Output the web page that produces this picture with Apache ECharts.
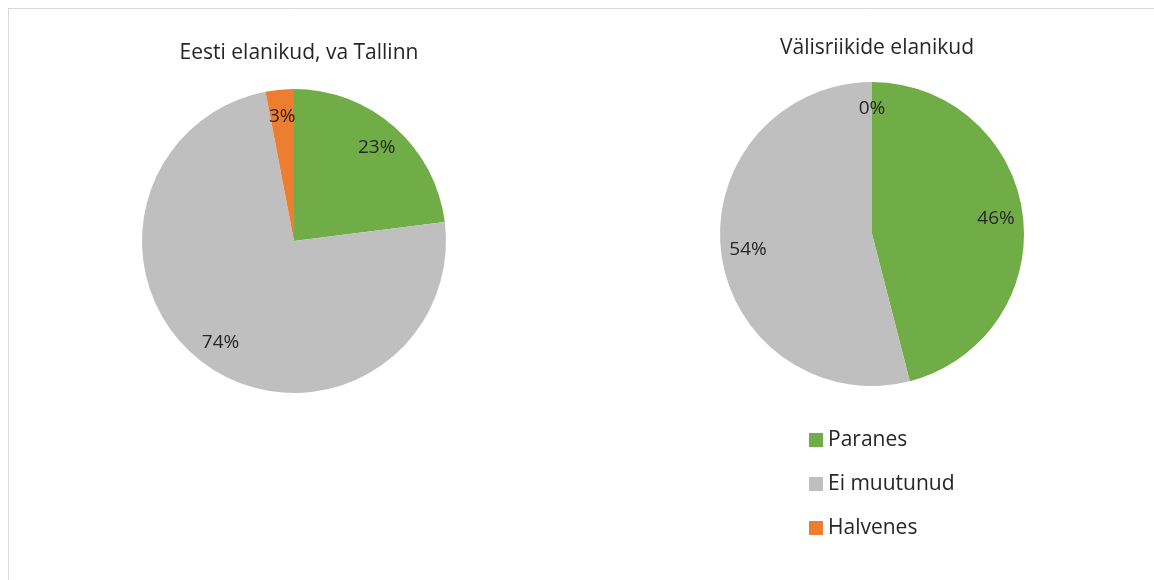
<!DOCTYPE html>
<html>
<head>
<meta charset="utf-8">
<script src="https://cdn.jsdelivr.net/npm/echarts@6/dist/echarts.min.js"></script>
<style>
html, body { margin: 0; padding: 0; background: #fff; }
#main { width: 1154px; height: 580px; }
</style>
</head>
<body>
<div id="main"></div>
<script>
// andmed
var categories = ['Paranes', 'Ei muutunud', 'Halvenes'];
var colors = ['#70AD47', '#BFBFBF', '#ED7D31'];
var eestiValues = [23, 74, 3];
var valisValues = [46, 54, 0];
var titles = ['Eesti elanikud, va Tallinn', 'Välisriikide elanikud'];

var FONT = '"Open Sans", "Noto Sans", sans-serif';
var myChart = echarts.init(document.getElementById('main'));

function toData(vals) {
    return categories.map(function (c, i) {
        return { name: c, value: vals[i], itemStyle: { color: colors[i] } };
    });
}

// pie slices + a transparent ring on top just for the labels (so they sit at ~0.8r)
function pieSeries(vals, center) {
    return [{
        type: 'pie',
        center: center,
        radius: 152,
        startAngle: 90,
        clockwise: true,
        silent: true,
        animation: false,
        label: { show: false },
        labelLine: { show: false },
        data: toData(vals)
    }, {
        type: 'pie',
        center: center,
        radius: [92, 152],
        startAngle: 90,
        clockwise: true,
        silent: true,
        animation: false,
        minShowLabelAngle: -1,
        itemStyle: { color: 'transparent' },
        label: {
            show: true,
            position: 'inside',
            formatter: '{c}%',
            color: '#262626',
            fontSize: 19,
            fontFamily: FONT
        },
        labelLine: { show: false },
        data: categories.map(function (c, i) {
            return { name: c + ' ', value: vals[i], itemStyle: { color: 'transparent' } };
        })
    }];
}

var option = {
    backgroundColor: '#fff',
    animation: false,
    title: [{
        text: titles[0],
        left: 294,
        top: 38,
        textAlign: 'center',
        textStyle: { fontSize: 21, fontWeight: 'normal', color: '#262626', fontFamily: FONT }
    }, {
        text: titles[1],
        left: 872,
        top: 33,
        textAlign: 'center',
        textStyle: { fontSize: 21, fontWeight: 'normal', color: '#262626', fontFamily: FONT }
    }],
    legend: {
        data: categories,
        orient: 'vertical',
        left: 809,
        top: 429,
        padding: 0,
        itemWidth: 14,
        itemHeight: 14,
        itemGap: 22,
        icon: 'rect',
        selectedMode: false,
        textStyle: { fontSize: 21, lineHeight: 22, color: '#262626', fontFamily: FONT }
    },
    graphic: [{
        type: 'line',
        shape: { x1: 8, y1: 8.5, x2: 1154, y2: 8.5 },
        style: { stroke: '#d9d9d9', lineWidth: 1 }
    }, {
        type: 'line',
        shape: { x1: 8.5, y1: 8, x2: 8.5, y2: 580 },
        style: { stroke: '#d9d9d9', lineWidth: 1 }
    }],
    series: pieSeries(eestiValues, [294, 241]).concat(pieSeries(valisValues, [872, 234]))
};

myChart.setOption(option);
</script>
</body>
</html>
